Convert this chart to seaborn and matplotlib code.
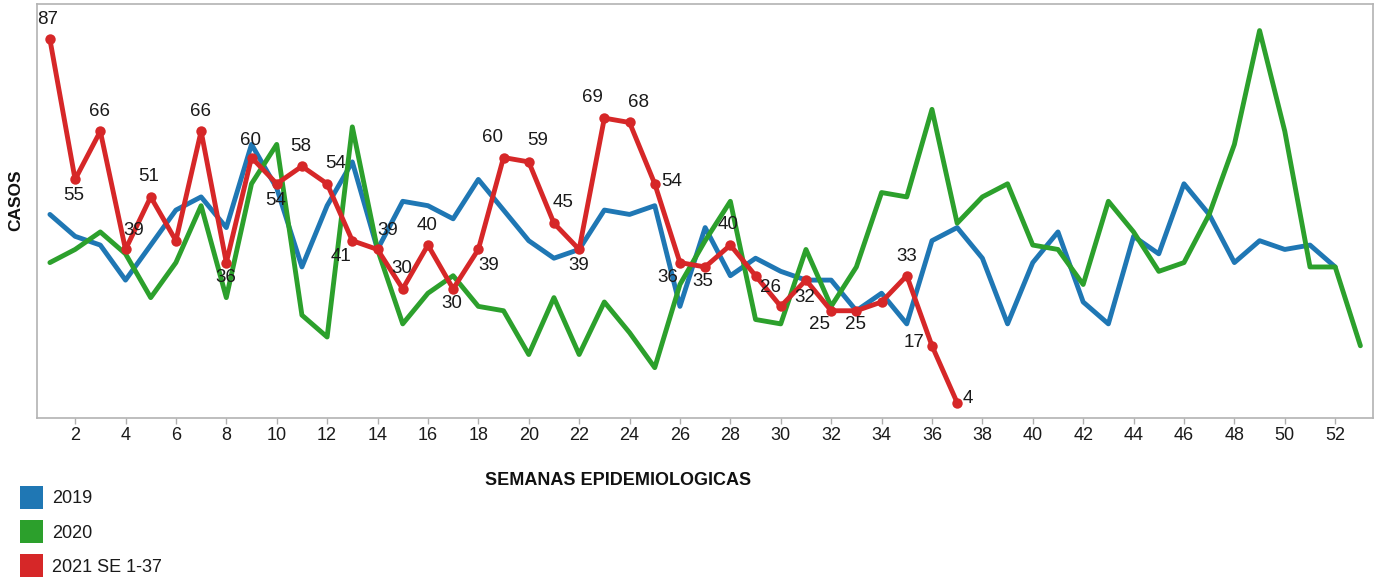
import matplotlib
matplotlib.use("Agg")
import matplotlib.pyplot as plt
from matplotlib.patches import Patch
import seaborn as sns
import pandas as pd

# ---- data ----
weeks_2019 = list(range(1, 53))
cases_2019 = [47, 42, 40, 32, 40, 48, 51, 44, 63, 53,
              35, 49, 59, 39, 50, 49, 46, 55, 48, 41,
              37, 39, 48, 47, 49, 26, 44, 33, 37, 34,
              32, 32, 25, 29, 22, 41, 44, 37, 22, 36,
              43, 27, 22, 42, 38, 54, 47, 36, 41, 39,
              40, 35]

weeks_2020 = list(range(1, 54))
cases_2020 = [36, 39, 43, 38, 28, 36, 49, 28, 54, 63,
              24, 19, 67, 39, 22, 29, 33, 26, 25, 15,
              28, 15, 27, 20, 12, 31, 41, 50, 23, 22,
              39, 26, 35, 52, 51, 71, 45, 51, 54, 40,
              39, 31, 50, 43, 34, 36, 47, 63, 89, 66,
              35, 35, 17]

weeks_2021 = list(range(1, 38))
cases_2021 = [87, 55, 66, 39, 51, 41, 66, 36, 60, 54,
              58, 54, 41, 39, 30, 40, 30, 39, 60, 59,
              45, 39, 69, 68, 54, 36, 35, 40, 33, 26,
              32, 25, 25, 27, 33, 17, 4]
unlabeled_weeks_2021 = [6, 29, 34]

series_names = ["2019", "2020", "2021 SE 1-37"]
x_ticks = list(range(2, 53, 2))
x_title = "SEMANAS EPIDEMIOLOGICAS"
y_title = "CASOS"

# ---- style ----
colors = {"2019": "#1f77b4", "2020": "#2ca02c", "2021 SE 1-37": "#d62728"}
# label offsets (pixels) relative to each labelled 2021 point
label_offsets = [(-2, 20), (-1, -16), (-1, 20), (8, 19), (-2, 20), None, (-1, 20),
                 (-1, -15), (-1, 17), (-1, -17), (-1, 20), (9, 20), (-11, -16),
                 (10, 19), (-1, 20), (-1, 20), (-1, -15), (10, -16), (-11, 20),
                 (9, 21), (9, 21), (0, -16), (-12, 21), (9, 20), (17, 2),
                 (-12, -15), (-2, -15), (-2, 21), None, (-10, 19), (-1, -17),
                 (-12, -14), (-1, -14), None, (0, 19), (-18, 3), (11, 4)]

sns.set_style("white")
plt.rcParams["font.family"] = ["Liberation Sans", "DejaVu Sans"]

df = pd.concat([
    pd.DataFrame({"week": weeks_2019, "cases": cases_2019, "serie": series_names[0]}),
    pd.DataFrame({"week": weeks_2020, "cases": cases_2020, "serie": series_names[1]}),
    pd.DataFrame({"week": weeks_2021, "cases": cases_2021, "serie": series_names[2]}),
])

fig = plt.figure(figsize=(13.8, 5.8), dpi=100)
ax = fig.add_axes([37.3 / 1380, 1 - 418 / 580, (1373 - 37.3) / 1380, (418 - 4.3) / 580])

for name in series_names:
    sub = df[df["serie"] == name]
    is_2021 = name == series_names[2]
    sns.lineplot(data=sub, x="week", y="cases", ax=ax, color=colors[name],
                 linewidth=3.5, marker="o" if is_2021 else None,
                 markersize=7.5, markeredgewidth=0, legend=False,
                 zorder=3 if is_2021 else 2)

for w, v, off in zip(weeks_2021, cases_2021, label_offsets):
    if w in unlabeled_weeks_2021 or off is None:
        continue
    ax.annotate(str(v), (w, v), xytext=off, textcoords="offset pixels",
                ha="center", va="center", fontsize=13.5, color="#1a1a1a", zorder=5)

ax.set_xlim(0.5, 53.5)
ax.set_ylim(0.5, 95)
ax.set_xticks(x_ticks)
ax.set_xticklabels([str(t) for t in x_ticks])
ax.set_yticks([])
ax.set_xlabel("")
ax.set_ylabel("")
ax.tick_params(axis="x", which="both", bottom=True, length=4, width=1,
               color="#b0b0b0", labelsize=13, labelcolor="#1a1a1a", pad=2.5)
for sp in ax.spines.values():
    sp.set_visible(True)
    sp.set_color("#b3b3b3")
    sp.set_linewidth(1.2)

fig.text(618 / 1380, 1 - 480.5 / 580, x_title, ha="center", va="center",
         fontsize=13, fontweight="bold", color="#111111")
fig.text(16 / 1380, 1 - 200 / 580, y_title, ha="center", va="center",
         rotation=90, fontsize=12.5, fontweight="bold", color="#111111")

handles = [Patch(facecolor=colors[n], edgecolor="none", label=n) for n in series_names]
fig.legend(handles=handles, loc="upper left", bbox_to_anchor=(20 / 1380, 1 - 486 / 580),
           frameon=False, fontsize=13, handlelength=1.28, handleheight=1.59,
           handletextpad=0.5, labelspacing=0.61, borderpad=0, borderaxespad=0,
           labelcolor="#1a1a1a")

fig.savefig("out.png", dpi=100)
